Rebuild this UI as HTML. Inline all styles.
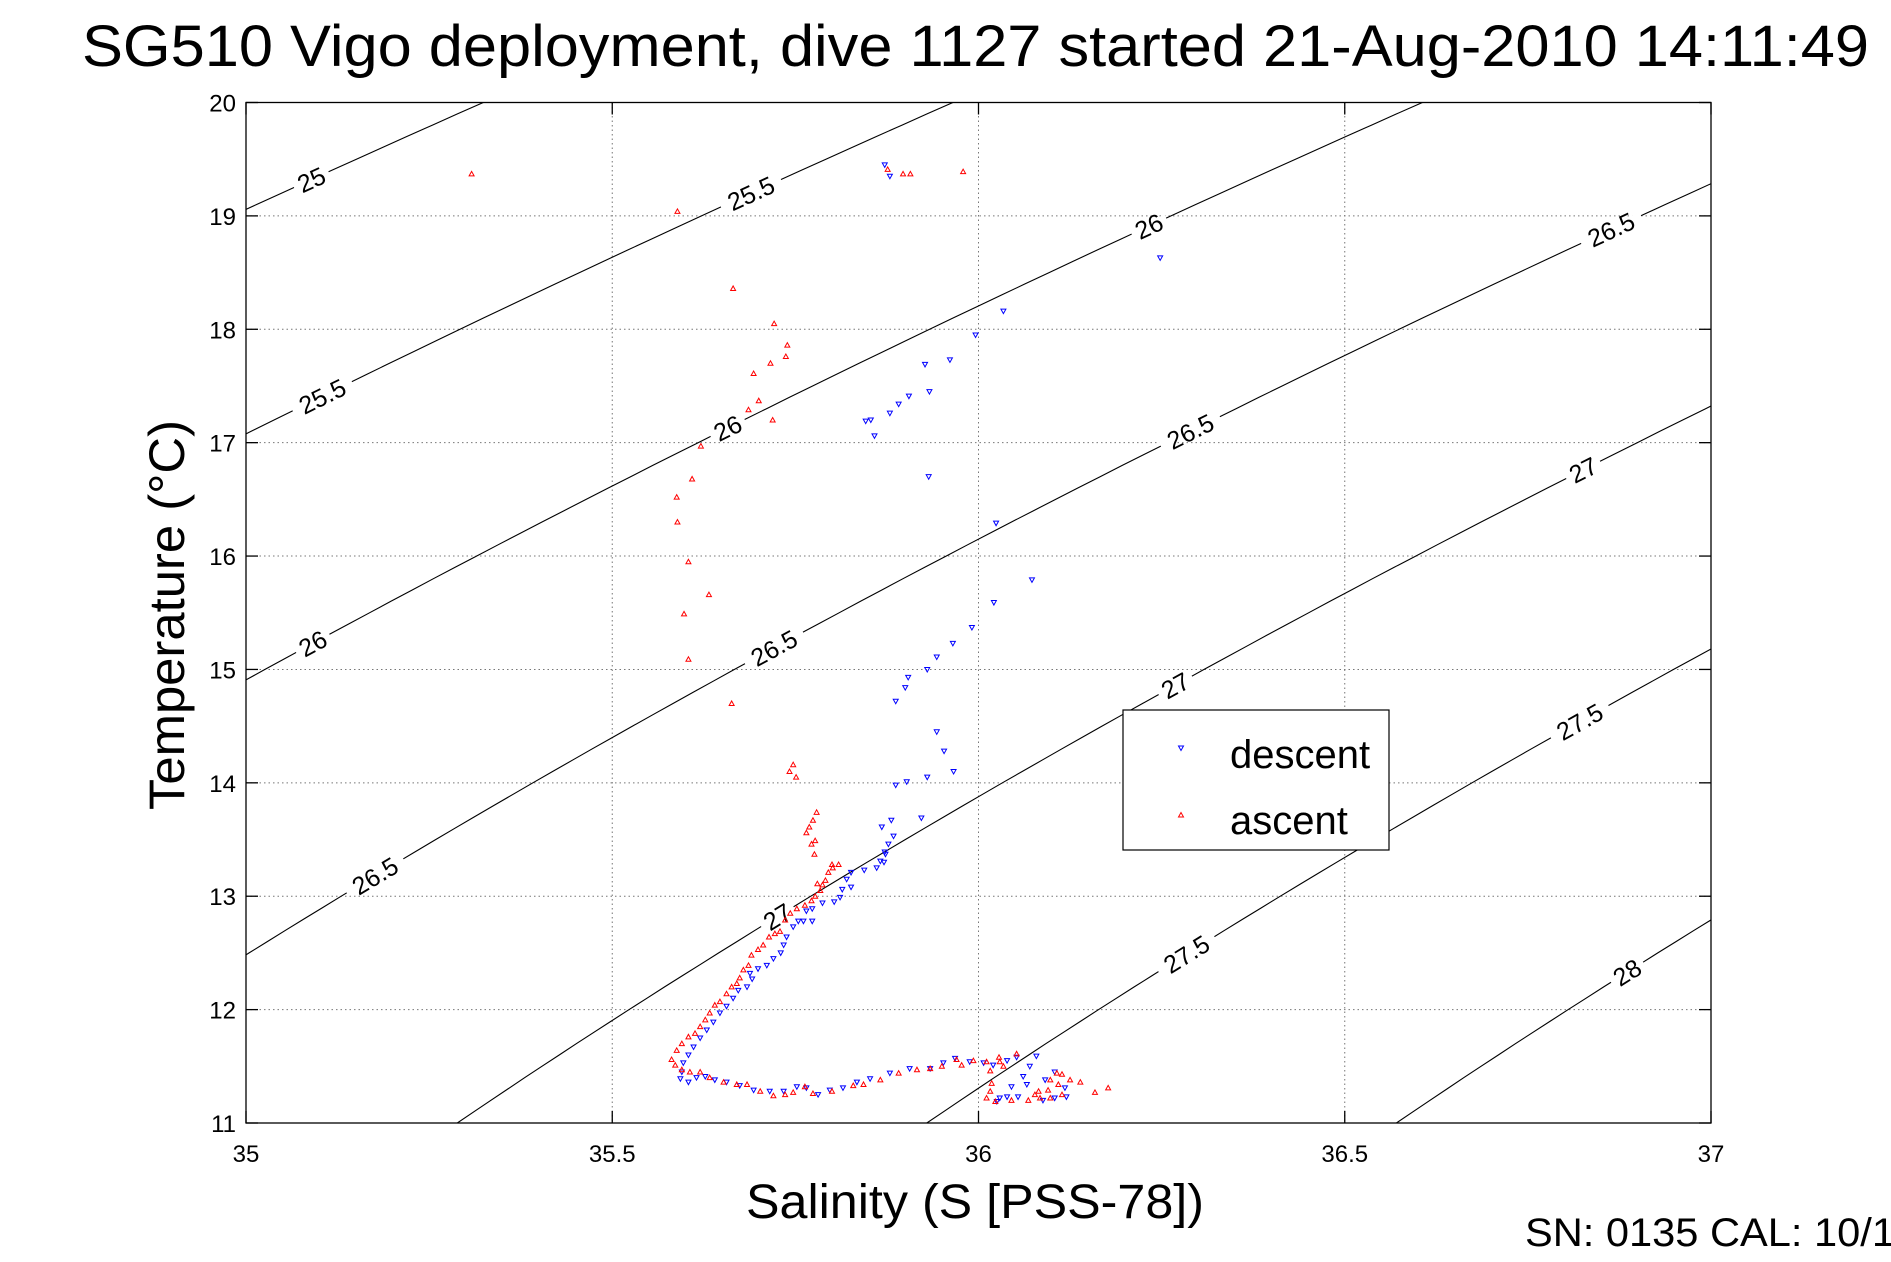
<!DOCTYPE html>
<html><head><meta charset="utf-8"><style>
html,body{margin:0;padding:0;background:#fff;}
svg{display:block;font-family:"Liberation Sans",Arial,sans-serif;}
</style></head><body>
<svg id="chart" width="1891" height="1262" viewBox="0 0 1891 1262" xmlns="http://www.w3.org/2000/svg">
<rect width="1891" height="1262" fill="#fff"/>
<text x="82" y="66" font-size="58" textLength="1787" lengthAdjust="spacingAndGlyphs">SG510 Vigo deployment, dive 1127 started 21-Aug-2010 14:11:49</text>
<defs><clipPath id="pc"><rect x="246" y="102.5" width="1465" height="1020.5"/></clipPath></defs>
<g id="grid"></g>
<g id="contours" clip-path="url(#pc)"></g>
<g id="clabels"></g>
<g id="points" clip-path="url(#pc)"></g>
<rect x="246" y="102.5" width="1465" height="1020.5" fill="none" stroke="#000" stroke-width="1.3"/>
<g id="ticks"></g>
<text x="975" y="1218" font-size="48" text-anchor="middle" textLength="458" lengthAdjust="spacingAndGlyphs">Salinity (S [PSS-78])</text>
<text transform="translate(184,615) rotate(-90)" font-size="50" text-anchor="middle" textLength="390" lengthAdjust="spacingAndGlyphs">Temperature (°C)</text>
<text x="1525" y="1246" font-size="40" textLength="370" lengthAdjust="spacingAndGlyphs">SN: 0135  CAL: 10/1</text>
<g>
<rect x="1123" y="710" width="266" height="140" fill="#fff" stroke="#000" stroke-width="1.2"/>
<path d="M1178.5,746 L1183.5,746 L1181,750.5 Z" fill="none" stroke="#00f" stroke-width="1"/>
<text x="1230" y="768" font-size="40">descent</text>
<path d="M1178.5,817 L1183.5,817 L1181,812.5 Z" fill="none" stroke="#f00" stroke-width="1"/>
<text x="1230" y="834" font-size="40">ascent</text>
</g>
</svg>
<script>
const xTicks=[35,35.5,36,36.5,37];
const xTickLabels=["35","35.5","36","36.5","37"];
const yTicks=[11,12,13,14,15,16,17,18,19,20];
const yTickLabels=["11","12","13","14","15","16","17","18","19","20"];
const contourLevels=[25,25.5,26,26.5,27,27.5,28];
const labelLevels=[25,25.5,26,26.5,25.5,26,26.5,27,26,26.5,27,27.5,26.5,27,27.5,28];
const labelTemps=[19.32,19.20,18.91,18.88,17.41,17.13,17.10,16.76,15.23,15.19,14.86,14.54,13.18,12.82,12.49,12.33];
const descentS=[35.872,35.879,36.248,36.034,35.996,35.961,35.927,35.933,35.905,35.891,35.879,35.853,35.846,35.858,35.932,36.024,36.073,36.021,35.991,35.965,35.943,35.930,35.904,35.900,35.887,35.943,35.953,35.966,35.930,35.902,35.887,35.922,35.881,35.868,35.884,35.877,35.872,35.866,
35.873,35.871,35.861,35.844,35.826,35.820,35.826,35.814,35.811,35.803,35.787,35.773,35.765,35.773,35.761,35.754,35.747,35.738,35.734,35.730,35.720,35.711,35.699,35.688,35.691,35.684,35.672,35.665,35.656,35.647,35.638,35.629,35.620,35.611,35.604,35.597,35.595,35.593,35.604,35.615,35.627,35.640,35.656,35.674,35.693,35.715,35.734,35.752,35.765,35.781,35.797,35.815,35.834,35.852,35.879,35.906,35.934,35.952,35.968,35.988,36.007,36.020,36.039,36.052,36.079,36.070,36.061,36.045,36.066,36.091,36.104,36.118,36.120,36.104,36.088,36.054,36.039,36.029,36.025];
const descentT=[19.45,19.35,18.63,18.16,17.95,17.73,17.69,17.45,17.41,17.34,17.26,17.20,17.19,17.06,16.70,16.29,15.79,15.59,15.37,15.23,15.11,15.00,14.93,14.84,14.72,14.45,14.28,14.10,14.05,14.01,13.98,13.69,13.67,13.61,13.53,13.46,13.39,13.31,
13.37,13.30,13.25,13.23,13.21,13.15,13.08,13.06,12.99,12.95,12.94,12.89,12.87,12.78,12.78,12.78,12.73,12.64,12.57,12.50,12.45,12.39,12.36,12.32,12.27,12.20,12.17,12.10,12.03,11.97,11.89,11.82,11.75,11.67,11.60,11.53,11.45,11.39,11.36,11.40,11.41,11.38,11.36,11.33,11.29,11.28,11.28,11.32,11.31,11.25,11.29,11.31,11.36,11.39,11.44,11.48,11.48,11.53,11.57,11.54,11.53,11.51,11.55,11.58,11.59,11.50,11.41,11.32,11.34,11.38,11.45,11.31,11.23,11.22,11.20,11.23,11.23,11.22,11.19];
const ascentS=[35.308,35.589,35.665,35.721,35.739,35.737,35.716,35.693,35.700,35.686,35.719,35.621,35.609,35.588,35.589,35.604,35.632,35.598,35.604,35.663,35.747,35.742,35.751,35.779,35.774,35.769,35.765,35.777,35.772,35.979,35.876,35.897,35.907,
35.776,35.800,35.809,35.801,35.795,35.791,35.780,35.787,35.784,35.777,35.772,35.763,35.752,35.743,35.736,35.729,35.722,35.714,35.706,35.699,35.690,35.686,35.679,35.674,35.670,35.663,35.656,35.647,35.640,35.633,35.627,35.620,35.613,35.604,35.595,35.588,35.581,35.586,35.595,35.606,35.620,35.633,35.652,35.670,35.684,35.702,35.720,35.736,35.747,35.763,35.774,35.800,35.829,35.843,35.866,35.891,35.916,35.934,35.950,35.970,35.977,35.993,36.011,36.029,36.028,36.052,36.034,36.016,36.018,36.016,36.011,36.023,36.045,36.068,36.082,36.098,36.107,36.114,36.125,36.139,36.114,36.098,36.084,36.095,36.159,36.177,36.077,36.109];
const ascentT=[19.37,19.04,18.36,18.05,17.86,17.76,17.70,17.61,17.37,17.29,17.20,16.97,16.68,16.52,16.30,15.95,15.66,15.49,15.09,14.70,14.16,14.10,14.05,13.74,13.67,13.61,13.56,13.49,13.46,19.39,19.41,19.37,19.37,
13.37,13.28,13.28,13.25,13.21,13.14,13.11,13.10,13.05,13.00,12.96,12.92,12.89,12.85,12.79,12.69,12.67,12.64,12.57,12.53,12.48,12.39,12.35,12.28,12.23,12.20,12.14,12.07,12.04,11.97,11.91,11.85,11.79,11.76,11.70,11.64,11.56,11.51,11.47,11.45,11.45,11.40,11.36,11.34,11.34,11.28,11.24,11.25,11.27,11.32,11.26,11.28,11.33,11.34,11.38,11.44,11.47,11.48,11.50,11.56,11.51,11.55,11.54,11.54,11.58,11.61,11.50,11.46,11.35,11.28,11.22,11.19,11.20,11.20,11.28,11.38,11.44,11.43,11.38,11.36,11.25,11.22,11.22,11.29,11.27,11.31,11.25,11.34];

const NS="http://www.w3.org/2000/svg";
const X0=246,X1=1711,Y0=1123,Y1=102.5;
function xs(s){return X0+(s-35)/2*(X1-X0);}
function ys(t){return Y0-(t-11)/9*(Y0-Y1);}
function sigmaBase(t){const d=t-11;return 26.775-0.1776*d-0.0053*d*d;}
function sAt(level,t){return 35+(level-sigmaBase(t))/0.78;}
function mk(tag,attrs,parent){const e=document.createElementNS(NS,tag);for(const k in attrs)e.setAttribute(k,attrs[k]);parent.appendChild(e);return e;}

const grid=document.getElementById('grid');
xTicks.forEach((v,i)=>{ if(i>0&&i<xTicks.length-1){
  const l=mk('line',{x1:xs(v),x2:xs(v),y1:Y1,y2:Y0,stroke:'#777','stroke-width':1,'stroke-dasharray':'1.5,3'},grid);
  
  }});
yTicks.forEach((v,i)=>{ if(i>0&&i<yTicks.length-1){
  const l=mk('line',{x1:X0,x2:X1,y1:ys(v),y2:ys(v),stroke:'#777','stroke-width':1,'stroke-dasharray':'1.5,3'},grid);
  
  }});

const ticks=document.getElementById('ticks');
xTicks.forEach((v,i)=>{
  mk('line',{x1:xs(v),x2:xs(v),y1:Y0,y2:Y0-12,stroke:'#000','stroke-width':1.3},ticks);
  mk('line',{x1:xs(v),x2:xs(v),y1:Y1,y2:Y1+12,stroke:'#000','stroke-width':1.3},ticks);
  const t=mk('text',{x:xs(v),y:1162,'font-size':24,'text-anchor':'middle'},ticks);
  t.textContent=xTickLabels[i];
  
  
});
yTicks.forEach((v,i)=>{
  mk('line',{x1:X0,x2:X0+12,y1:ys(v),y2:ys(v),stroke:'#000','stroke-width':1.3},ticks);
  mk('line',{x1:X1,x2:X1-12,y1:ys(v),y2:ys(v),stroke:'#000','stroke-width':1.3},ticks);
  const t=mk('text',{x:236,y:ys(v)+9,'font-size':24,'text-anchor':'end'},ticks);
  t.textContent=yTickLabels[i];
  
  
});

const cg=document.getElementById('contours');
contourLevels.forEach(lv=>{
  let pts=[];
  for(let t=10.5;t<=20.5;t+=0.1){pts.push(xs(sAt(lv,t)).toFixed(1)+','+ys(t).toFixed(1));}
  const p=mk('polyline',{points:pts.join(' '),fill:'none',stroke:'#000','stroke-width':1.1},cg);
  
  
});
const lg=document.getElementById('clabels');
labelLevels.forEach((lv,i)=>{
  const t=labelTemps[i];
  const x=xs(sAt(lv,t)),y=ys(t);
  const x2=xs(sAt(lv,t+0.1)),y2=ys(t+0.1);
  const ang=Math.atan2(y2-y,x2-x)*180/Math.PI;
  const g=mk('g',{transform:`translate(${x},${y}) rotate(${ang})`},lg);
  const label=String(lv);
  const w=label.length*14+10;
  mk('rect',{x:-w/2,y:-4,width:w,height:8,fill:'#fff'},g);
  const tx=mk('text',{x:0,y:9,'font-size':25,'text-anchor':'middle'},g);
  tx.textContent=label;
  
  
});

const pg=document.getElementById('points');
descentS.forEach((s,i)=>{
  const x=xs(s),y=ys(descentT[i]);
  const p=mk('path',{d:`M${x-2.5},${y-2} L${x+2.5},${y-2} L${x},${y+2.5} Z`,fill:'none',stroke:'#00f','stroke-width':1},pg);
  
  
});
ascentS.forEach((s,i)=>{
  const x=xs(s),y=ys(ascentT[i]);
  const p=mk('path',{d:`M${x-2.5},${y+2} L${x+2.5},${y+2} L${x},${y-2.5} Z`,fill:'none',stroke:'#f00','stroke-width':1},pg);
  
  
});
</script>
</body></html>
